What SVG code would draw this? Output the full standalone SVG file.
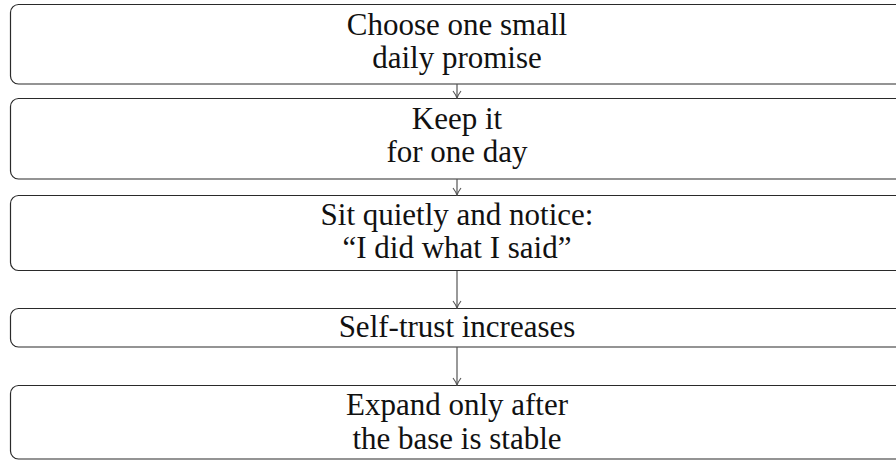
<svg xmlns="http://www.w3.org/2000/svg" width="896" height="460" viewBox="0 0 896 460">
  <defs>
    <style>
      .box { fill: #ffffff; stroke: #2a2a2a; stroke-width: 1.2; }
      .lbl { font-family: 'Liberation Serif', 'DejaVu Serif', 'Times New Roman', serif; font-size: 31px; fill: #111111; text-anchor: middle; }
      .edge { stroke: #555555; stroke-width: 1.2; fill: none; }
    </style>
    <marker id="tip" viewBox="0 0 10 10" refX="9" refY="5" markerWidth="10" markerHeight="10" markerUnits="userSpaceOnUse" orient="auto">
      <path d="M2,1 Q6,4 9,5 Q6,6 2,9" fill="none" stroke="#555555" stroke-width="1.1"/>
    </marker>
  </defs>
  <rect width="896" height="460" fill="#ffffff"/>

  <g id="n1">
    <rect class="box" x="10.5" y="4.5" width="894" height="79.5" rx="8"/>
    <text class="lbl" font-family="Liberation Serif, serif" x="457" y="34.5">Choose one small</text>
    <text class="lbl" font-family="Liberation Serif, serif" x="457" y="67.5">daily promise</text>
  </g>
  <g id="n2">
    <rect class="box" x="10.5" y="98.5" width="894" height="80.5" rx="8"/>
    <text class="lbl" font-family="Liberation Serif, serif" x="457" y="128.5">Keep it</text>
    <text class="lbl" font-family="Liberation Serif, serif" x="457" y="161.5">for one day</text>
  </g>
  <g id="n3">
    <rect class="box" x="10.5" y="195.5" width="894" height="75" rx="8"/>
    <text class="lbl" font-family="Liberation Serif, serif" x="457" y="225">Sit quietly and notice:</text>
    <text class="lbl" font-family="Liberation Serif, serif" x="457" y="258">“I did what I said”</text>
  </g>
  <g id="n4">
    <rect class="box" x="10.5" y="308.5" width="894" height="38.5" rx="8"/>
    <text class="lbl" font-family="Liberation Serif, serif" x="457" y="337">Self-trust increases</text>
  </g>
  <g id="n5">
    <rect class="box" x="10.5" y="385.5" width="894" height="73.5" rx="8"/>
    <text class="lbl" font-family="Liberation Serif, serif" x="457" y="415">Expand only after</text>
    <text class="lbl" font-family="Liberation Serif, serif" x="457" y="449">the base is stable</text>
  </g>

  <g id="connectors">
    <line class="edge" x1="457" y1="84" x2="457" y2="98" marker-end="url(#tip)"/>
    <line class="edge" x1="457" y1="179" x2="457" y2="195" marker-end="url(#tip)"/>
    <line class="edge" x1="457" y1="271" x2="457" y2="308" marker-end="url(#tip)"/>
    <line class="edge" x1="457" y1="347" x2="457" y2="385" marker-end="url(#tip)"/>
  </g>
</svg>
